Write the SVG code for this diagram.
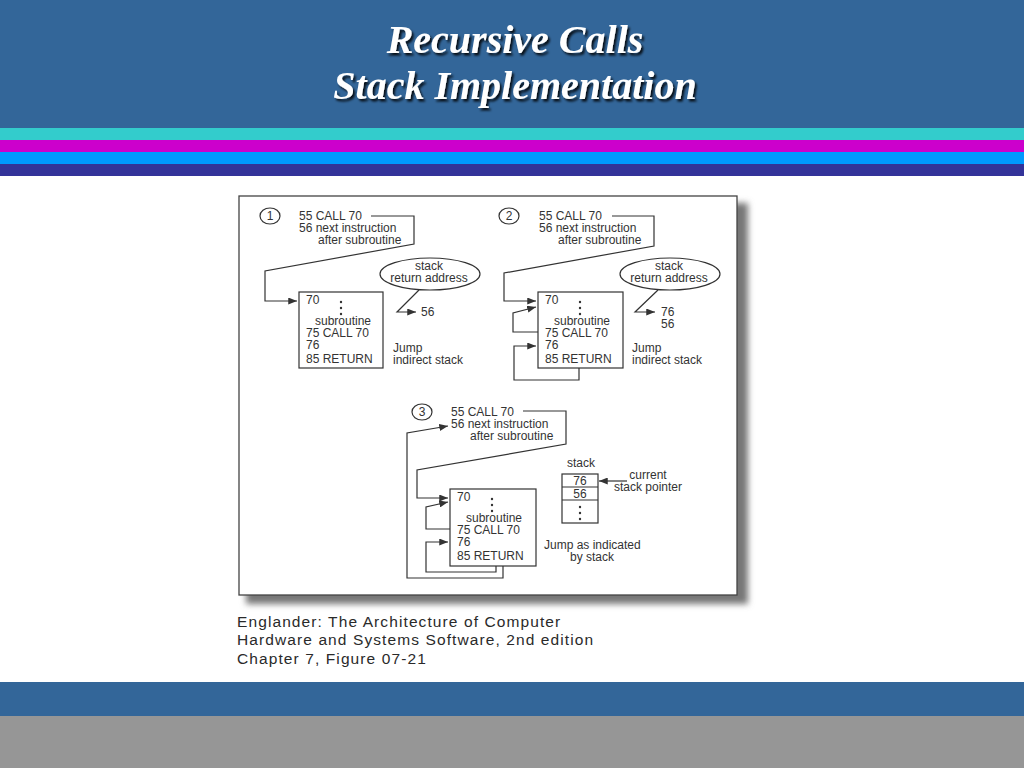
<svg xmlns="http://www.w3.org/2000/svg" width="1024" height="768" viewBox="0 0 1024 768">
<defs>
<style>
.t{font-family:"Liberation Sans",Arial,sans-serif;font-size:12px;fill:#333}
.c{text-anchor:middle}
.ln{fill:none;stroke:#333;stroke-width:1.2}
.bx{fill:#fff;stroke:#333;stroke-width:1.2}
.title{font-family:"Liberation Serif","Times New Roman",serif;font-weight:bold;font-style:italic;font-size:40px;fill:#fff;text-anchor:middle}
.cap{font-family:"Liberation Sans",Arial,sans-serif;font-size:15.5px;letter-spacing:1.1px;fill:#2a2a2a}
</style>
<marker id="ah" viewBox="0 0 10 8" refX="10" refY="4" markerWidth="9" markerHeight="7" markerUnits="userSpaceOnUse" orient="auto">
<path d="M0,0 L10,4 L0,8 Z" fill="#333"/>
</marker>
<filter id="ts" x="-5%" y="-20%" width="110%" height="140%">
<feDropShadow dx="2" dy="2.5" stdDeviation="1" flood-color="#000" flood-opacity="0.85"/>
</filter>
<filter id="fs" x="-5%" y="-5%" width="110%" height="110%">
<feGaussianBlur stdDeviation="3"/>
</filter>
</defs>

<g id="background">
<rect x="0" y="0" width="1024" height="768" fill="#fff"/>
<rect x="0" y="0" width="1024" height="128" fill="#336699"/>
<rect x="0" y="128" width="1024" height="12" fill="#33CCCC"/>
<rect x="0" y="140" width="1024" height="12" fill="#CC00CC"/>
<rect x="0" y="152" width="1024" height="12" fill="#0099FF"/>
<rect x="0" y="164" width="1024" height="12" fill="#333399"/>
<rect x="0" y="682" width="1024" height="34" fill="#336699"/>
<rect x="0" y="716" width="1024" height="52" fill="#969696"/>
</g>

<g id="title" filter="url(#ts)">
<text class="title" x="515" y="53">Recursive Calls</text>
<text class="title" x="515" y="99">Stack Implementation</text>
</g>

<g id="figure-frame">
<rect x="246" y="203" width="502" height="401" fill="#777" filter="url(#fs)"/>
<rect x="239" y="196" width="498" height="399" fill="#fff" stroke="#444" stroke-width="1.3"/>
</g>

<g id="connectors">
<path class="ln" d="M371,216 H414 V244 L265,271 V301 H297" marker-end="url(#ah)"/>
<path class="ln" d="M419,290 L397,312 H416" marker-end="url(#ah)"/>
<path class="ln" d="M612,216 H654 V246 L504,273 V301 H536" marker-end="url(#ah)"/>
<path class="ln" d="M538,332 H513 V313 L536,307" marker-end="url(#ah)"/>
<path class="ln" d="M579,368 V380 H514 V346 H536" marker-end="url(#ah)"/>
<path class="ln" d="M658,290 L635,312 H655" marker-end="url(#ah)"/>
<path class="ln" d="M523,411 H566 V444 L417,470 V498 H448" marker-end="url(#ah)"/>
<path class="ln" d="M450,529 H426 V507 L448,502" marker-end="url(#ah)"/>
<path class="ln" d="M496,566 V572 H426 V542 H448" marker-end="url(#ah)"/>
<path class="ln" d="M503,566 V578 H407 V433 L448,426" marker-end="url(#ah)"/>
<path class="ln" d="M627,481 H599" marker-end="url(#ah)"/>
</g>

<g id="step1-label">
<ellipse class="bx" cx="270" cy="216" rx="10" ry="8"/>
<text class="t c" x="270" y="220" font-size="11">1</text>
</g>
<g id="step1-call">
<text class="t" x="299" y="220">55 CALL 70</text>
<text class="t" x="299" y="232">56 next instruction</text>
<text class="t" x="318" y="244">after subroutine</text>
</g>
<g id="step1-stack">
<ellipse class="bx" cx="430" cy="274" rx="50" ry="16"/>
<text class="t c" x="429" y="270">stack</text>
<text class="t c" x="429" y="282">return address</text>
<text class="t" x="421" y="316">56</text>
</g>
<g id="step1-subroutine">
<rect class="bx" x="299" y="292" width="84" height="76"/>
<text class="t" x="306" y="304">70</text>
<circle cx="341" cy="302" r="1.2" fill="#333"/>
<circle cx="341" cy="308" r="1.2" fill="#333"/>
<circle cx="341" cy="314" r="1.2" fill="#333"/>
<text class="t" x="315" y="325">subroutine</text>
<text class="t" x="306" y="337">75 CALL 70</text>
<text class="t" x="306" y="349">76</text>
<text class="t" x="306" y="363">85 RETURN</text>
</g>
<g id="step1-jump">
<text class="t" x="393" y="352">Jump</text>
<text class="t" x="393" y="364">indirect stack</text>
</g>

<g id="step2-label">
<ellipse class="bx" cx="509" cy="216" rx="10" ry="8"/>
<text class="t c" x="509" y="220" font-size="11">2</text>
</g>
<g id="step2-call">
<text class="t" x="539" y="220">55 CALL 70</text>
<text class="t" x="539" y="232">56 next instruction</text>
<text class="t" x="558" y="244">after subroutine</text>
</g>
<g id="step2-stack">
<ellipse class="bx" cx="670" cy="274" rx="50" ry="16"/>
<text class="t c" x="669" y="270">stack</text>
<text class="t c" x="669" y="282">return address</text>
<text class="t" x="661" y="316">76</text>
<text class="t" x="661" y="328">56</text>
</g>
<g id="step2-subroutine">
<rect class="bx" x="538" y="292" width="85" height="76"/>
<text class="t" x="545" y="304">70</text>
<circle cx="580" cy="302" r="1.2" fill="#333"/>
<circle cx="580" cy="308" r="1.2" fill="#333"/>
<circle cx="580" cy="314" r="1.2" fill="#333"/>
<text class="t" x="554" y="325">subroutine</text>
<text class="t" x="545" y="337">75 CALL 70</text>
<text class="t" x="545" y="349">76</text>
<text class="t" x="545" y="363">85 RETURN</text>
</g>
<g id="step2-jump">
<text class="t" x="632" y="352">Jump</text>
<text class="t" x="632" y="364">indirect stack</text>
</g>

<g id="step3-label">
<ellipse class="bx" cx="422" cy="412" rx="10" ry="8"/>
<text class="t c" x="422" y="416" font-size="11">3</text>
</g>
<g id="step3-call">
<text class="t" x="451" y="416">55 CALL 70</text>
<text class="t" x="451" y="428">56 next instruction</text>
<text class="t" x="470" y="440">after subroutine</text>
</g>
<g id="step3-subroutine">
<rect class="bx" x="450" y="489" width="86" height="77"/>
<text class="t" x="457" y="501">70</text>
<circle cx="492" cy="499" r="1.2" fill="#333"/>
<circle cx="492" cy="505" r="1.2" fill="#333"/>
<circle cx="492" cy="511" r="1.2" fill="#333"/>
<text class="t" x="466" y="522">subroutine</text>
<text class="t" x="457" y="534">75 CALL 70</text>
<text class="t" x="457" y="546">76</text>
<text class="t" x="457" y="560">85 RETURN</text>
</g>
<g id="step3-stack">
<text class="t" x="567" y="467">stack</text>
<rect class="bx" x="562" y="474" width="36" height="49"/>
<line class="ln" x1="562" y1="487" x2="598" y2="487"/>
<line class="ln" x1="562" y1="500" x2="598" y2="500"/>
<text class="t c" x="580" y="485">76</text>
<text class="t c" x="580" y="498">56</text>
<circle cx="580" cy="507" r="1.2" fill="#333"/>
<circle cx="580" cy="513" r="1.2" fill="#333"/>
<circle cx="580" cy="519" r="1.2" fill="#333"/>
</g>
<g id="step3-pointer">
<text class="t c" x="648" y="479">current</text>
<text class="t c" x="648" y="491">stack pointer</text>
</g>
<g id="step3-jump">
<text class="t" x="544" y="549">Jump as indicated</text>
<text class="t" x="570" y="561">by stack</text>
</g>

<g id="caption">
<text class="cap" x="237" y="627">Englander: The Architecture of Computer</text>
<text class="cap" x="237" y="645">Hardware and Systems Software, 2nd edition</text>
<text class="cap" x="237" y="664">Chapter 7, Figure 07-21</text>
</g>
</svg>
